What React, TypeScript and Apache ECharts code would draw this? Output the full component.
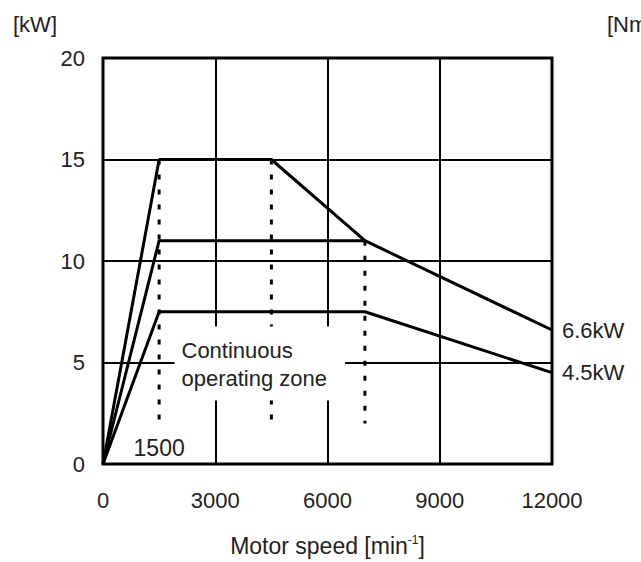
import React, { useEffect, useRef } from "react";
import * as echarts from "echarts";

// Output power curves [motor speed (min^-1), power (kW)]
const curveShortTime = [[0, 0], [1500, 15], [4500, 15], [7000, 11], [12000, 6.6]];
const curveMid = [[0, 0], [1500, 11], [7000, 11]];
const curveContinuous = [[0, 0], [1500, 7.5], [7000, 7.5], [12000, 4.5]];
// dotted guide lines
const guide1500 = [[1500, 15], [1500, 2]];
const guide4500 = [[4500, 15], [4500, 2]];
const guide7000 = [[7000, 11], [7000, 2]];
// annotations
const endLabelHigh = "6.6kW";
const endLabelLow = "4.5kW";
const zoneLabel = "Continuous\noperating zone";
const zoneAnchor = [[1924, 6.75]];
const baseSpeedLabel = "1500";
const baseSpeedAnchor = [[1500, 0.8]];
const yUnit = "[kW]";
const y2Unit = "[Nm]";

const FONT = "'Liberation Sans', Arial, sans-serif";
const TXT = "#222";

export default function App() {
  const ref = useRef<HTMLDivElement>(null);
  useEffect(() => {
    const chart = echarts.init(ref.current!, null, { renderer: "svg" });
    const solid = (data: number[][], endText?: string) => ({
      type: "line",
      data,
      symbol: "none",
      lineStyle: { color: "#000", width: 3 },
      z: 3,
      endLabel: endText
        ? { show: true, formatter: endText, distance: 10, fontSize: 22, color: TXT, fontFamily: FONT }
        : undefined,
    });
    const dotted = (data: number[][]) => ({
      type: "line",
      data,
      symbol: "none",
      lineStyle: { color: "#000", width: 3, type: [5, 10] },
      z: 2,
    });
    chart.setOption({
      animation: false,
      textStyle: { fontFamily: FONT },
      grid: {
        left: 103,
        right: 89,
        top: 58,
        bottom: 98,
        show: true,
        borderColor: "#000",
        borderWidth: 3,
      },
      xAxis: {
        type: "value",
        min: 0,
        max: 12000,
        interval: 3000,
        axisLine: { show: false },
        axisTick: { show: false },
        splitLine: { lineStyle: { color: "#000", width: 2 } },
        axisLabel: {
          margin: 25,
          fontSize: 22,
          color: TXT,
          fontFamily: FONT,
          formatter: (v: number) => String(v),
        },
        name: "{a|Motor speed [min}{s|-1}{a|]}",
        nameLocation: "middle",
        nameGap: 70,
        nameTextStyle: {
          rich: {
            a: { fontSize: 23, color: TXT, fontFamily: FONT },
            s: { fontSize: 12, color: TXT, fontFamily: FONT, verticalAlign: "top" },
          },
        },
      },
      yAxis: {
        type: "value",
        min: 0,
        max: 20,
        interval: 5,
        axisLine: { show: false },
        axisTick: { show: false },
        splitLine: { lineStyle: { color: "#000", width: 2 } },
        axisLabel: { margin: 18, fontSize: 22, color: TXT, fontFamily: FONT },
      },
      graphic: [
        { type: "text", left: 13, top: 13, style: { text: yUnit, fontSize: 22, fill: TXT, fontFamily: FONT } },
        { type: "text", left: 607, top: 13, style: { text: y2Unit, fontSize: 22, fill: TXT, fontFamily: FONT } },
      ],
      series: [
        dotted(guide1500),
        dotted(guide4500),
        dotted(guide7000),
        solid(curveShortTime, endLabelHigh),
        solid(curveMid),
        solid(curveContinuous, endLabelLow),
        {
          type: "scatter",
          data: zoneAnchor,
          symbolSize: 1,
          itemStyle: { color: "rgba(0,0,0,0)", opacity: 1 },
          z: 5,
          label: {
            show: true,
            formatter: zoneLabel,
            position: [0, 0],
            align: "left",
            verticalAlign: "top",
            backgroundColor: "#fff",
            padding: [10, 18, 8, 7],
            lineHeight: 28,
            fontSize: 22,
            color: TXT,
            fontFamily: FONT,
          },
        },
        {
          type: "scatter",
          data: baseSpeedAnchor,
          symbolSize: 1,
          itemStyle: { color: "rgba(0,0,0,0)", opacity: 1 },
          z: 5,
          label: {
            show: true,
            formatter: baseSpeedLabel,
            position: "inside",
            fontSize: 23,
            color: TXT,
            fontFamily: FONT,
          },
        },
      ],
    });
    return () => chart.dispose();
  }, []);
  return (
    <div
      ref={ref}
      style={{ position: "absolute", left: 0, top: 0, width: 641, height: 562, background: "#fff" }}
    />
  );
}
